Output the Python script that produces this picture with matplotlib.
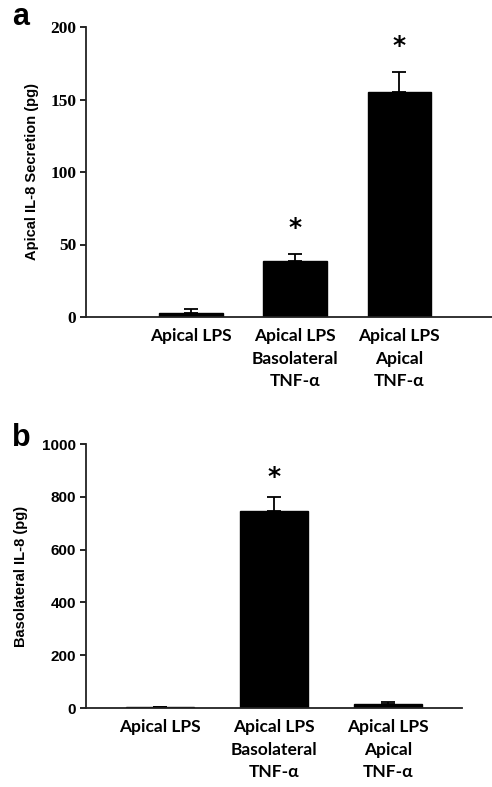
import numpy as np
import matplotlib
matplotlib.use('Agg')
import matplotlib.pyplot as plt

# data
categories = ['Apical LPS', 'Apical LPS\nBasolateral\nTNF-α', 'Apical LPS\nApical\nTNF-α']
apical_mean = [2.5, 38.5, 155]
apical_err = [3, 5, 14]
apical_sig = [False, True, True]
baso_mean = [2, 745, 15]
baso_err = [1, 55, 8]
baso_sig = [False, True, False]

fig = plt.figure(figsize=(4.92, 7.87), dpi=100)

cat_font = dict(family='Lato', fontweight='bold', fontsize=12.5, linespacing=1.5)


def draw_panel(ax, means, errs, sig, width, ylim, yticks, tick_family, tick_size,
               ylabel, star_off):
    x = np.arange(len(means))
    ax.bar(x, means, width=width, color='black', edgecolor='black', zorder=2)
    ax.errorbar(x, means, yerr=[np.zeros(len(errs)), errs], fmt='none',
                ecolor='black', elinewidth=1.3, capsize=5, capthick=1.3, zorder=1)
    for xi, m, e, s in zip(x, means, errs, sig):
        if s:
            ax.text(xi, m + e + star_off, '*', ha='center', va='center',
                    fontsize=18, fontweight='bold')
    ax.set_ylim(*ylim)
    ax.set_yticks(yticks)
    ax.set_yticklabels([str(t) for t in yticks], family=tick_family,
                       fontweight='bold', fontsize=tick_size)
    ax.set_xticks(x)
    ax.set_xticklabels(categories, **cat_font)
    ax.tick_params(axis='x', length=0, pad=8)
    ax.tick_params(axis='y', direction='out', length=4, width=1.2, pad=3)
    for side in ['top', 'right']:
        ax.spines[side].set_visible(False)
    for side in ['left', 'bottom']:
        ax.spines[side].set_linewidth(1.3)
        ax.spines[side].set_color('#222222')
    ax.set_ylabel(ylabel, family='Liberation Sans', fontweight='bold', fontsize=10.5)


# PANEL a
ax1 = fig.add_axes([86/492, 1-317/787, 406/492, 290/787])
draw_panel(ax1, apical_mean, apical_err, apical_sig, 0.61, (0, 200),
           [0, 50, 100, 150, 200], 'Liberation Serif', 12.5,
           'Apical IL-8 Secretion (pg)', 18)
ax1.set_xlim(-1.01, 2.89)
ax1.yaxis.set_label_coords(-0.115, 0.5)
fig.text(12/492, 1-17/787, 'a', fontsize=22, fontweight='bold',
         family='Liberation Sans', va='center')

# PANEL b
ax2 = fig.add_axes([86/492, 1-708/787, 376/492, 264/787])
draw_panel(ax2, baso_mean, baso_err, baso_sig, 0.6, (0, 1000),
           [0, 200, 400, 600, 800, 1000], 'Liberation Sans', 11,
           'Basolateral IL-8 (pg)', 75)
ax2.set_xlim(-0.65, 2.65)
ax2.yaxis.set_label_coords(-0.155, 0.5)
fig.text(12/492, 1-438/787, 'b', fontsize=22, fontweight='bold',
         family='Liberation Sans', va='center')

fig.savefig('out.png', dpi=100)
